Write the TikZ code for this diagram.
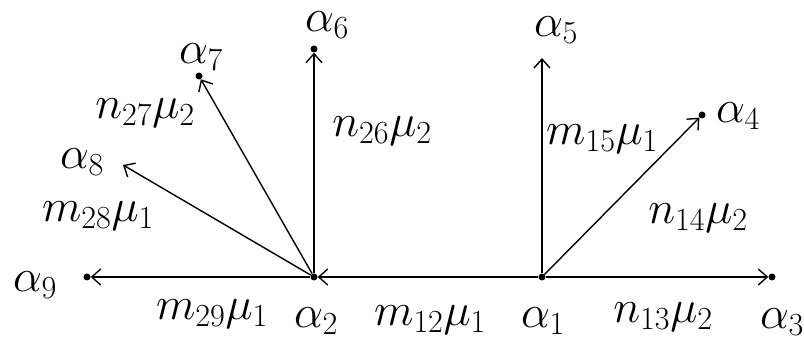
\RequirePackage{fix-cm}
\documentclass[tikz,border=0pt]{standalone}
\usetikzlibrary{arrows.meta}
\begin{document}
\begin{tikzpicture}[x=1pt,y=-1pt,
  dot/.style={circle,fill,inner sep=0pt,minimum size=7pt},
  lbl/.style={inner sep=0pt,font=\fontsize{46}{52}\selectfont},
  conn/.style={line width=1.4pt,-{Straight Barb[length=9pt,width=16pt,line width=1.4pt]}}]
\useasboundingbox (0,0) rectangle (804,347);
% points
\node[dot] (a1) at (542,277) {};
\node[dot] (a2) at (314,277) {};
\node[dot] (a3) at (772,277) {};
\node[dot] (a4) at (702,115) {};
\coordinate (a5) at (542,58);
\node[dot] (a6) at (314,49) {};
\node[dot] (a7) at (199,76) {};
\coordinate (a8) at (123,165);
\node[dot] (a9) at (87,277) {};
% connectors
\draw[conn] (a1) -- (a2);
\draw[conn] (a1) -- (a3);
\draw[conn] (a1) -- (a4);
\draw[conn] (a1) -- (a5);
\draw[conn] (a2) -- (a6);
\draw[conn] (a2) -- (a7);
\draw[conn] (a2) -- (a8);
\draw[conn] (a2) -- (a9);
% point labels
\node[lbl] (t1) at (543,321) {$\alpha_1$};
\node[lbl] (t2) at (316,321) {$\alpha_2$};
\node[lbl] (t3) at (782,322) {$\alpha_3$};
\node[lbl] (t4) at (738,116) {$\alpha_4$};
\node[lbl] (t5) at (556,30) {$\alpha_5$};
\node[lbl] (t6) at (327,25) {$\alpha_6$};
\node[lbl] (t7) at (201,57) {$\alpha_7$};
\node[lbl] (t8) at (82,162) {$\alpha_8$};
\node[lbl] (t9) at (35,285) {$\alpha_9$};
% edge labels
\node[lbl] (e12) at (430,320) {$m_{12}\mu_1$};
\node[lbl] (e13) at (663,317) {$n_{13}\mu_2$};
\node[lbl] (e14) at (698,218) {$n_{14}\mu_2$};
\node[lbl] (e15) at (602,139) {$m_{15}\mu_1$};
\node[lbl] (e26) at (382,131) {$n_{26}\mu_2$};
\node[lbl] (e27) at (145,113) {$n_{27}\mu_2$};
\node[lbl] (e28) at (98,216) {$m_{28}\mu_1$};
\node[lbl] (e29) at (212,314) {$m_{29}\mu_1$};
\end{tikzpicture}
\end{document}
